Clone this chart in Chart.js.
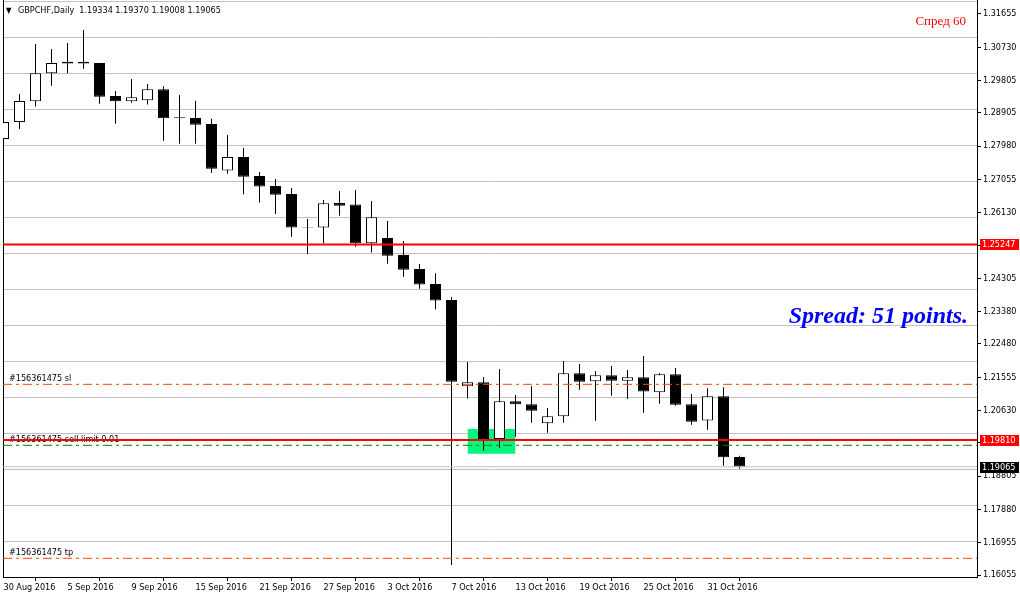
<!DOCTYPE html>
<html><head><meta charset="utf-8">
<script src="https://cdn.jsdelivr.net/npm/chart.js@4.4.1/dist/chart.umd.min.js"></script>
<style>html,body{margin:0;padding:0;background:#fff;overflow:hidden}canvas{display:block}</style>
</head><body>
<canvas id="c" width="1020" height="599"></canvas>
<script>
const symbolTitle = 'GBPCHF,Daily';
const dates = ['2016.08.30','2016.08.31','2016.09.01','2016.09.02','2016.09.05','2016.09.06','2016.09.07','2016.09.08','2016.09.09','2016.09.12','2016.09.13','2016.09.14','2016.09.15','2016.09.16','2016.09.19','2016.09.20','2016.09.21','2016.09.22','2016.09.23','2016.09.26','2016.09.27','2016.09.28','2016.09.29','2016.09.30','2016.10.03','2016.10.04','2016.10.05','2016.10.06','2016.10.07','2016.10.10','2016.10.11','2016.10.12','2016.10.13','2016.10.14','2016.10.17','2016.10.18','2016.10.19','2016.10.20','2016.10.21','2016.10.24','2016.10.25','2016.10.26','2016.10.27','2016.10.28','2016.10.31','2016.11.01','2016.11.02'];
const open  = [1.28180,1.28650,1.29230,1.30005,1.30330,1.30325,1.30290,1.29375,1.29230,1.29255,1.29560,1.28785,1.28765,1.28595,1.27300,1.27680,1.27150,1.26870,1.26650,1.25730,1.25715,1.26400,1.26355,1.25280,1.25425,1.24955,1.24565,1.24145,1.23700,1.21305,1.21415,1.19835,1.20885,1.20800,1.20275,1.20470,1.21665,1.21440,1.21610,1.21460,1.21555,1.21135,1.21635,1.20800,1.20355,1.21025,1.19334];
const high  = [1.28820,1.29430,1.30820,1.30680,1.30850,1.31210,1.30290,1.29515,1.29850,1.29710,1.29645,1.29405,1.29245,1.28745,1.28290,1.27935,1.27260,1.27065,1.26815,1.25955,1.26485,1.26735,1.26760,1.26455,1.25900,1.25345,1.24705,1.24445,1.23785,1.21980,1.21560,1.21785,1.21060,1.21310,1.20700,1.22005,1.21920,1.21730,1.21865,1.21755,1.22145,1.21670,1.21810,1.21090,1.21245,1.21275,1.19370];
const low   = [1.27900,1.28460,1.29080,1.29660,1.30005,1.30135,1.29160,1.28605,1.29190,1.29135,1.28130,1.28050,1.28050,1.27235,1.27215,1.26640,1.26410,1.26095,1.25460,1.24980,1.25280,1.26045,1.25185,1.25020,1.24710,1.24350,1.24015,1.23435,1.16335,1.20960,1.19510,1.19595,1.19900,1.20290,1.20010,1.20290,1.21210,1.20345,1.21040,1.20950,1.20570,1.20820,1.20765,1.20235,1.20095,1.19095,1.19008];
const close = [1.28650,1.29235,1.30005,1.30290,1.30275,1.30280,1.29355,1.29230,1.29340,1.29560,1.28755,1.28755,1.28575,1.27355,1.27680,1.27130,1.26855,1.26630,1.25715,1.25720,1.26390,1.26325,1.25280,1.26000,1.24935,1.24545,1.24130,1.23685,1.21430,1.21415,1.19835,1.20885,1.20800,1.20625,1.20470,1.21665,1.21430,1.21610,1.21460,1.21555,1.21155,1.21635,1.20790,1.20320,1.21025,1.19330,1.19065];

const xTickIndex  = [0,4,8,12,16,20,24,28,32,36,40,44];
const xTickLabels = ['30 Aug 2016','5 Sep 2016','9 Sep 2016','15 Sep 2016','21 Sep 2016','27 Sep 2016','3 Oct 2016','7 Oct 2016','13 Oct 2016','19 Oct 2016','25 Oct 2016','31 Oct 2016'];
const yTickLabels = ['1.31655','1.30730','1.29805','1.28905','1.27980','1.27055','1.26130','1.25205','1.24305','1.23380','1.22480','1.21555','1.20630','1.19730','1.18805','1.17880','1.16955','1.16055'];
const gridLevels  = [1.32,1.31,1.30,1.29,1.28,1.27,1.26,1.25,1.24,1.23,1.22,1.21,1.20,1.19,1.18,1.17];

const redLevels   = [1.25247, 1.19810];
const bidPrice    = 1.19065;
const orderLabels = ['#156361475 sl', '#156361475 sell limit 0.01', '#156361475 tp'];
const orderPrices = [1.21357, 1.19662, 1.16520];
const zoneBars    = [29, 32];
const zonePrices  = [1.20115, 1.19428];
const spreadText  = 'Spread: 51 points.';
const spreadLabel = 'Спред 60';

const yMin = 1.16, yMax = 1.32044;
const xMin = -0.03125, xMax = 60.84375;

const uiFont = "'DejaVu Sans Condensed','DejaVu Sans','Liberation Sans',sans-serif";

const idx = dates.map((d, i) => i);
const bull = idx.map(i => close[i] >= open[i]);
const bodyData = idx.map(i => ({x: i, y: [open[i], close[i]]}));
const wickData = idx.map(i => ({x: i, y: [low[i], high[i]]}));
const hline = v => [{x: xMin, y: v}, {x: xMax, y: v}];
const dashDot = [9, 4, 3, 4];

const datasets = [
  {type:'bar', label:'body', data: bodyData, backgroundColor: bull.map(b => b ? '#ffffff' : '#000000'),
   borderColor:'#000', borderWidth:1, borderSkipped:false, barThickness:11, grouped:false, inflateAmount:0, order:2},
  {type:'bar', label:'wick', data: wickData, backgroundColor:'#000', borderWidth:0, barThickness:1,
   grouped:false, inflateAmount:0, order:3},
  {type:'line', label:'zone', data: zoneBars.map(b => ({x: b, y: zonePrices[0]})), fill:{value: zonePrices[1]},
   backgroundColor:'#00F57F', borderWidth:0, pointRadius:0, order:10},
  {type:'line', label:'bid', data: hline(bidPrice), borderColor:'#C0C0C0', borderWidth:1, pointRadius:0, fill:false, order:1},
];
orderPrices.forEach((p, i) => datasets.push({type:'line', label: orderLabels[i], data: hline(p),
  borderColor: i === 1 ? '#008000' : '#FF4500', borderWidth:1, borderDash: dashDot, pointRadius:0, fill:false, order:1}));
redLevels.forEach(p => datasets.push({type:'line', label:'level', data: hline(p), borderColor:'#FF0000',
  borderWidth:2, pointRadius:0, fill:false, order:0}));

const mt4Overlay = {
  id: 'mt4Overlay',
  beforeDatasetsDraw(chart) {
    const {ctx, chartArea, scales: {y}} = chart;
    ctx.save();
    ctx.font = '9px ' + uiFont;
    ctx.fillStyle = '#000'; ctx.textAlign = 'left'; ctx.textBaseline = 'bottom';
    orderLabels.forEach((t, i) => ctx.fillText(t, chartArea.left + 6, Math.round(y.getPixelForValue(orderPrices[i])) - 1));
    ctx.restore();
  },
  afterDraw(chart) {
    const {ctx, chartArea, scales: {y}, width} = chart;
    ctx.save();
    ctx.font = '9px ' + uiFont;
    ctx.textAlign = 'left'; ctx.textBaseline = 'middle';
    const tag = (v, bg) => {
      const py = Math.round(y.getPixelForValue(v));
      ctx.fillStyle = bg;
      ctx.fillRect(chartArea.right + 3, py - 5, width - chartArea.right - 4, 11);
      ctx.fillStyle = '#fff';
      ctx.fillText(v.toFixed(5), chartArea.right + 5, py + 0.5);
    };
    redLevels.forEach(v => tag(v, '#FF0000'));
    tag(bidPrice, '#000000');
    // header
    const last = open.length - 1;
    ctx.fillStyle = '#000';
    ctx.font = '8px ' + uiFont;
    ctx.fillText('▼', chartArea.left + 3, 11);
    ctx.font = '9px ' + uiFont;
    ctx.fillText(symbolTitle + '  ' + [open[last], high[last], low[last], close[last]].map(v => v.toFixed(5)).join(' '),
      chartArea.left + 15, 11);
    // spread texts
    ctx.textAlign = 'right'; ctx.textBaseline = 'alphabetic';
    ctx.fillStyle = '#FF0000';
    ctx.font = "13px 'Liberation Serif','DejaVu Serif',serif";
    ctx.fillText(spreadLabel, chartArea.right - 11, 25);
    ctx.fillStyle = '#0000FF';
    ctx.font = "bold italic 24px 'Liberation Serif','DejaVu Serif',serif";
    ctx.fillText(spreadText, chartArea.right - 9, 323);
    ctx.restore();
  }
};

const tickFont = {family: uiFont, size: 9};
new Chart(document.getElementById('c').getContext('2d'), {
  type: 'bar',
  data: {datasets},
  plugins: [mt4Overlay],
  options: {
    responsive: false, animation: false, events: [],
    layout: {padding: 0},
    plugins: {legend: {display: false}, tooltip: {enabled: false}},
    scales: {
      x: {
        type: 'linear', min: xMin, max: xMax, offset: false,
        grid: {display: true, drawOnChartArea: false, drawTicks: true, tickLength: 4, color: '#000'},
        border: {display: true, color: '#000'},
        ticks: {align: 'start', maxRotation: 0, autoSkip: false, padding: 1, font: tickFont, color: '#000',
                callback: (v, i) => xTickLabels[i]},
        afterBuildTicks: s => { s.ticks = xTickIndex.map(v => ({value: v})); },
        afterFit: s => { s.height = 22; s.paddingLeft = 0; s.paddingRight = 0; }
      },
      y: {
        type: 'linear', position: 'right', min: yMin, max: yMax,
        grid: {display: true, drawOnChartArea: false, drawTicks: true, tickLength: 4, color: '#000'},
        border: {display: true, color: '#000'},
        ticks: {padding: 2, font: tickFont, color: '#000', callback: (v, i) => yTickLabels[i]},
        afterBuildTicks: s => { s.ticks = yTickLabels.map(t => ({value: parseFloat(t)})); },
        afterFit: s => { s.width = 43; s.paddingTop = 0; s.paddingBottom = 0; }
      },
      yg: {
        type: 'linear', position: 'left', min: yMin, max: yMax,
        grid: {display: true, drawTicks: false, color: '#C0C0C0'},
        border: {display: true, color: '#000'},
        ticks: {display: false},
        afterBuildTicks: s => { s.ticks = gridLevels.map(v => ({value: v})); },
        afterFit: s => { s.width = 3; s.paddingTop = 0; s.paddingBottom = 0; }
      }
    }
  }
});
</script>
</body></html>
